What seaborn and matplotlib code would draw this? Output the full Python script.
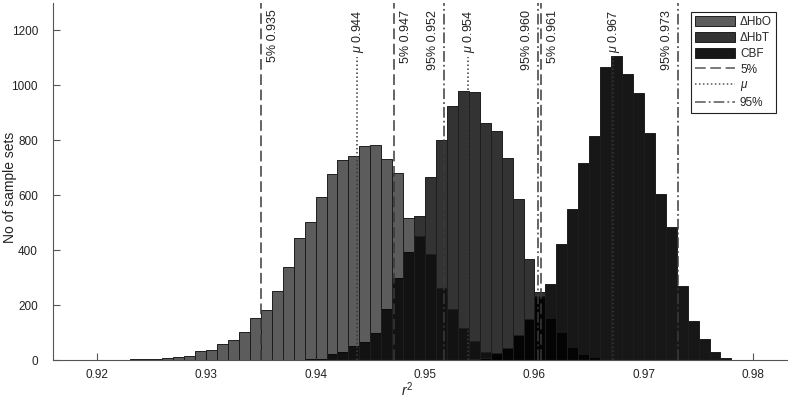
import numpy as np
import pandas as pd
import matplotlib
matplotlib.use("Agg")
import matplotlib.pyplot as plt
from matplotlib.patches import Patch
from matplotlib.lines import Line2D
from matplotlib.colors import to_rgba
import seaborn as sns

# ---------------- data ----------------
bin_width = 0.001
bin_start = 0.917
n_bins = 63
bin_edges = [round(bin_start + bin_width * i, 3) for i in range(n_bins + 1)]
bin_centers = [e + bin_width / 2 for e in bin_edges[:-1]]

# counts per bin, bins starting at 0.917, 0.918, ... 0.979
hbo_counts = [0, 1, 1, 1, 1, 2, 4, 3, 6, 8,            # 0.917-0.926
              11, 16, 35, 37, 60, 75, 103, 154, 182, 253,   # 0.927-0.936
              340, 446, 502, 593, 677, 730, 742, 778, 783, 731,  # 0.937-0.946
              680, 519, 452, 387, 262, 185, 116, 70, 31, 12,  # 0.947-0.956
              4, 1, 0, 0, 0, 0, 0, 0, 0, 0,                 # 0.957-0.966
              0, 0, 0, 0, 0, 0, 0, 0, 0, 0,                 # 0.967-0.976
              0, 0, 0]                                      # 0.977-0.979
hbt_counts = [0, 0, 0, 0, 0, 0, 0, 0, 0, 0,
              0, 0, 0, 0, 0, 0, 0, 0, 0, 0,
              0, 1, 4, 6, 22, 31, 53, 65, 101, 186,
              298, 395, 526, 665, 800, 924, 980, 974, 864, 834,
              736, 588, 369, 248, 149, 98, 44, 18, 7, 2,
              0, 0, 0, 0, 0, 0, 0, 0, 0, 0,
              0, 0, 0]
cbf_counts = [0, 0, 0, 0, 0, 0, 0, 0, 0, 0,
              0, 0, 0, 0, 0, 0, 0, 0, 0, 0,
              0, 0, 0, 0, 0, 0, 0, 0, 0, 0,
              0, 0, 0, 0, 0, 0, 2, 4, 10, 25,
              46, 92, 149, 235, 279, 422, 551, 719, 817, 1065,
              1107, 1041, 971, 825, 605, 486, 269, 144, 79, 30,
              8, 2, 1]

series_names = ["\u0394HbO", "\u0394HbT", "CBF"]
p5_values = [0.9350, 0.9472, 0.9606]
mean_values = [0.9438, 0.9539, 0.9672]
p95_values = [0.9517, 0.9603, 0.9731]

x_ticks = [0.92, 0.93, 0.94, 0.95, 0.96, 0.97, 0.98]
y_ticks = [0, 200, 400, 600, 800, 1000, 1200]

# ---------------- style ----------------
sns.set_style("white")
plt.rcParams["font.family"] = ["Liberation Sans", "DejaVu Sans"]
plt.rcParams["mathtext.fontset"] = "custom"
plt.rcParams["mathtext.it"] = "Liberation Sans:italic"
plt.rcParams["mathtext.rm"] = "Liberation Sans"

fig = plt.figure(figsize=(7.89, 4.03), dpi=100)
ax = fig.add_axes([53.3 / 789, 1 - 360.3 / 403, 733.7 / 789, 357.5 / 403])

edge_col = "#1e1e1e"
styles = {
    "\u0394HbT": dict(color="#333333", alpha=1.0),
    "\u0394HbO": dict(color="black", alpha=0.64),
    "CBF": dict(color="black", alpha=0.91),
}
counts_map = {"\u0394HbO": hbo_counts, "\u0394HbT": hbt_counts, "CBF": cbf_counts}

for name in ["\u0394HbT", "\u0394HbO", "CBF"]:
    df = pd.DataFrame({"r2": bin_centers, "n": counts_map[name]})
    sns.histplot(data=df, x="r2", weights="n", bins=bin_edges, ax=ax,
                 color=styles[name]["color"], alpha=styles[name]["alpha"],
                 edgecolor=edge_col, linewidth=0.7, zorder=2)

line_col = "#3a3a3a"
ls_5 = (0, (7, 3))
ls_mu = (0, (1, 1.6))
ls_95 = (0, (7, 2, 1.2, 2))

for v in p5_values:
    ax.axvline(v, color=line_col, lw=1.1, linestyle=ls_5, zorder=3)
    ax.annotate(f"5% {v:.3f}", xy=(v, 1), xycoords=("data", "axes fraction"),
                xytext=(8.5, -5), textcoords="offset points", rotation=90,
                ha="center", va="top", fontsize=9, color="#222222")
for v in mean_values:
    ax.axvline(v, ymax=0.848, color=line_col, lw=1.1, linestyle=ls_mu, zorder=3)
    ax.annotate(r"$\mu$" + f" {v:.3f}", xy=(v, 1), xycoords=("data", "axes fraction"),
                xytext=(0.8, -5), textcoords="offset points", rotation=90,
                ha="center", va="top", fontsize=9, color="#222222")
for v in p95_values:
    ax.axvline(v, color=line_col, lw=1.1, linestyle=ls_95, zorder=3)
    ax.annotate(f"95% {v:.3f}", xy=(v, 1), xycoords=("data", "axes fraction"),
                xytext=(-8, -5), textcoords="offset points", rotation=90,
                ha="center", va="top", fontsize=9, color="#222222")

ax.set_xlim(0.91603, 0.98308)
ax.set_ylim(0, 1300)
ax.set_xticks(x_ticks)
ax.set_xticklabels([f"{t:.2f}" for t in x_ticks])
ax.set_yticks(y_ticks)
ax.set_yticklabels([str(t) for t in y_ticks])
ax.tick_params(axis="both", direction="in", length=5, width=0.8, color="#555555",
               labelsize=8.5, labelcolor="#222222", bottom=True, left=True)
ax.tick_params(axis="y", pad=11)
ax.tick_params(axis="x", pad=6.5)
for s in ["top", "right"]:
    ax.spines[s].set_visible(False)
for s in ["left", "bottom"]:
    ax.spines[s].set_color("#555555")
    ax.spines[s].set_linewidth(0.8)

ax.set_xlabel(r"$r^2$", fontsize=10, color="#222222")
ax.set_ylabel("No of sample sets", fontsize=10, color="#222222")
ax.xaxis.set_label_coords(0.482, -0.055)
ax.yaxis.set_label_coords(-0.05, 0.485)

handles = [
    Patch(facecolor=to_rgba("black", 0.64), edgecolor=edge_col, linewidth=0.7),
    Patch(facecolor="#333333", edgecolor=edge_col, linewidth=0.7),
    Patch(facecolor=to_rgba("black", 0.91), edgecolor=edge_col, linewidth=0.7),
    Line2D([], [], color="#555555", lw=1.1, linestyle=ls_5),
    Line2D([], [], color="#555555", lw=1.1, linestyle=ls_mu),
    Line2D([], [], color="#555555", lw=1.1, linestyle=ls_95),
]
labels = series_names + ["5%", r"$\mu$", "95%"]
leg = ax.legend(handles, labels, loc="upper right", bbox_to_anchor=(0.985, 0.974),
                fontsize=8.5, frameon=True, fancybox=False, framealpha=1,
                edgecolor="#222222", handlelength=3.4, handleheight=0.9,
                handletextpad=0.4, labelspacing=0.32, borderpad=0.35,
                borderaxespad=0)
leg.get_frame().set_linewidth(0.8)

fig.savefig("out.png", dpi=100)
